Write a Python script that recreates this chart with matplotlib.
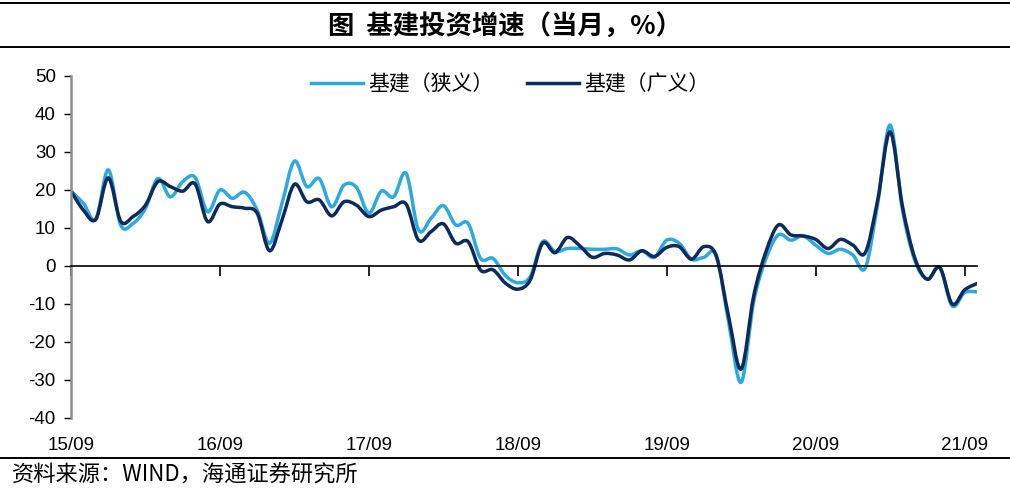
#!/usr/bin/env python3
"""Infrastructure investment growth, monthly (narrow vs broad), 2015/09 - 2021/10."""

import matplotlib
matplotlib.use("Agg")
import matplotlib.pyplot as plt
import numpy as np
from matplotlib.lines import Line2D
from matplotlib.patches import PathPatch
from matplotlib.path import Path

CJK = ["Noto Sans CJK SC", "DejaVu Sans"]
LATIN = "Liberation Sans"

TITLE = "图  基建投资增速（当月，%）"
SOURCE = "资料来源：WIND，海通证券研究所"
SERIES_NAMES = ["基建（狭义）", "基建（广义）"]
COLORS = ["#2BA9E1", "#0C2A5C"]

TICK_LABELS = ["15/09", "16/09", "17/09", "18/09", "19/09", "20/09", "21/09"]
TICK_POS = [0, 12, 24, 36, 48, 60, 72]

# monthly growth, %
narrow = [
    19.7, 16.5, 12.3, 25.3, 10.8, 11.2, 15.2, 23.0, 18.2, 22.2, 23.3, 14.3,
    20.0, 17.8, 19.4, 14.7, 6.0, 16.5, 27.6, 20.9, 23.0, 15.6, 21.3, 20.7,
    13.9, 19.7, 18.2, 24.4, 9.5, 12.5, 15.9, 10.8, 11.2, 2.0, 2.0, -2.5,
    -4.4, -2.8, 6.4, 3.8, 4.6, 4.6, 4.4, 4.4, 4.5, 2.9, 4.0, 2.3,
    6.8, 6.0, 1.8, 2.3, 2.8, -15.0, -30.6, -9.5, 2.0, 8.2, 6.8, 7.9,
    5.5, 3.3, 4.4, 2.9, -0.5, 16.5, 37.1, 14.7, 1.4, -3.5, -0.4, -10.5,
    -7.0, -6.8,
]
broad = [
    19.7, 14.7, 12.3, 23.2, 11.8, 13.0, 16.0, 22.2, 20.9, 19.7, 21.6, 11.7,
    16.3, 15.6, 15.2, 13.9, 4.0, 12.1, 21.5, 16.9, 17.4, 13.2, 16.9, 16.0,
    13.0, 14.7, 15.6, 16.3, 6.8, 9.0, 11.1, 6.0, 6.4, -1.1, -1.0, -4.5,
    -6.1, -3.7, 6.0, 3.5, 7.5, 5.3, 2.3, 3.3, 2.9, 1.6, 4.0, 2.5,
    4.9, 5.1, 1.8, 5.1, 2.5, -13.5, -27.1, -8.0, 3.8, 10.8, 8.2, 7.9,
    7.0, 4.6, 7.0, 5.5, 3.5, 17.4, 35.3, 15.6, 2.0, -3.5, -0.4, -10.0,
    -6.3, -4.6,
]


def smooth_path(y):
    """Excel style smoothed line: Catmull-Rom segments as cubic Bezier curves."""
    y = np.asarray(y, dtype=float)
    x = np.arange(len(y), dtype=float)
    pts = np.column_stack([x, y])
    verts = [pts[0]]
    codes = [Path.MOVETO]
    for i in range(len(pts) - 1):
        p0 = pts[max(i - 1, 0)]
        p1, p2 = pts[i], pts[i + 1]
        p3 = pts[min(i + 2, len(pts) - 1)]
        verts += [p1 + (p2 - p0) / 6, p2 - (p3 - p1) / 6, p2]
        codes += [Path.CURVE4] * 3
    return Path(verts, codes)


def main():
    plt.rcParams["axes.unicode_minus"] = False

    fig = plt.figure(figsize=(10.1, 4.91), dpi=100)
    ax = fig.add_axes([71 / 1010, 1 - 418 / 491, (977 - 71) / 1010, (418 - 76) / 491])

    for values, color in zip([narrow, broad], COLORS):
        ax.add_patch(PathPatch(smooth_path(values), fill=False, edgecolor=color,
                               linewidth=2.5, capstyle="round", joinstyle="round"))

    ax.set_xlim(0, len(narrow) - 1)
    ax.set_ylim(-40, 50)
    ax.set_yticks(range(-40, 51, 10))
    ax.tick_params(axis="y", direction="out", length=5, width=1, pad=6,
                   labelsize=13.5, color="black")
    for lab in ax.get_yticklabels():
        lab.set_fontfamily(LATIN)

    # x axis line sits on zero, labels stay below the plot
    ax.spines["bottom"].set_position(("data", 0))
    ax.spines["bottom"].set_linewidth(1.2)
    ax.spines["top"].set_visible(False)
    ax.spines["right"].set_visible(False)
    ax.spines["left"].set_color("#8c8c8c")
    ax.spines["left"].set_linewidth(1.8)
    ax.set_xticks(TICK_POS)
    ax.tick_params(axis="x", direction="out", length=7, width=1.2, labelbottom=False)

    sec = ax.secondary_xaxis("bottom")
    sec.set_xticks(TICK_POS, TICK_LABELS)
    sec.tick_params(length=0, pad=14, labelsize=13.5)
    sec.spines["bottom"].set_visible(False)
    for lab in sec.get_xticklabels():
        lab.set_fontfamily(LATIN)

    handles = [Line2D([], [], color=c, linewidth=2.5) for c in COLORS]
    ax.legend(handles, SERIES_NAMES, loc="center", bbox_to_anchor=(0.485, 0.975),
              ncol=2, frameon=False, handlelength=2.5, columnspacing=1.6,
              handletextpad=0.25, borderpad=0, prop={"family": CJK, "size": 15})

    # title band and source note
    for yy in (1 - 3 / 491, 1 - 47 / 491, 1 - 458 / 491):
        fig.add_artist(Line2D([0, 1], [yy, yy], color="black", linewidth=1.4,
                              transform=fig.transFigure))
    fig.text(0.5, 1 - 26 / 491, TITLE, ha="center", va="center",
             family=CJK, fontsize=19, fontweight="bold")
    fig.text(12 / 1010, 1 - 475 / 491, SOURCE, ha="left", va="center",
             family=CJK, fontsize=16)

    fig.savefig("out.png", dpi=100)
    plt.close(fig)


if __name__ == "__main__":
    main()
